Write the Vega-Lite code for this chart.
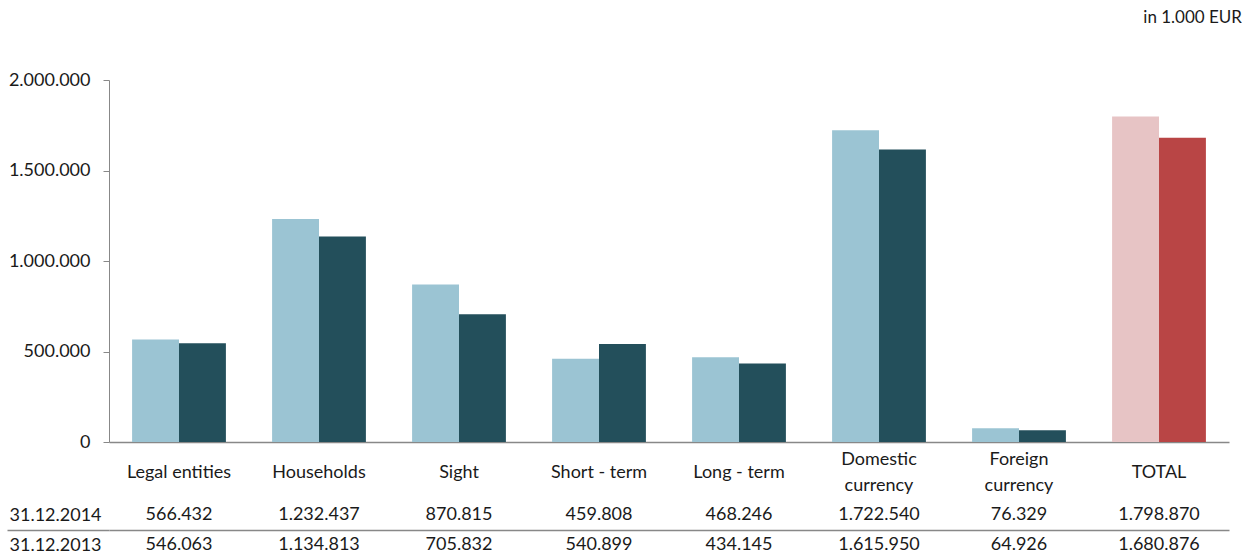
{
  "$schema": "https://vega.github.io/schema/vega-lite/v6.json",
  "padding": {"top": 9, "left": 6, "right": 0, "bottom": 0},
  "title": {"text": "in 1.000 EUR", "anchor": "end", "fontSize": 17, "fontWeight": "normal", "font": "Lato", "color": "#1a1a1a", "offset": 44, "dx": 13},
  "datasets": {
    "deposits": [
      {"category": "Legal entities", "date": "31.12.2014", "value": 566432},
      {"category": "Households", "date": "31.12.2014", "value": 1232437},
      {"category": "Sight", "date": "31.12.2014", "value": 870815},
      {"category": "Short - term", "date": "31.12.2014", "value": 459808},
      {"category": "Long - term", "date": "31.12.2014", "value": 468246},
      {"category": "Domestic currency", "date": "31.12.2014", "value": 1722540},
      {"category": "Foreign currency", "date": "31.12.2014", "value": 76329},
      {"category": "TOTAL", "date": "31.12.2014", "value": 1798870},
      {"category": "Legal entities", "date": "31.12.2013", "value": 546063},
      {"category": "Households", "date": "31.12.2013", "value": 1134813},
      {"category": "Sight", "date": "31.12.2013", "value": 705832},
      {"category": "Short - term", "date": "31.12.2013", "value": 540899},
      {"category": "Long - term", "date": "31.12.2013", "value": 434145},
      {"category": "Domestic currency", "date": "31.12.2013", "value": 1615950},
      {"category": "Foreign currency", "date": "31.12.2013", "value": 64926},
      {"category": "TOTAL", "date": "31.12.2013", "value": 1680876}
    ]
  },
  "bounds": "flush",
  "spacing": 58,
  "vconcat": [
    {
      "width": 1120,
      "height": 362,
      "data": {"name": "deposits"},
      "mark": {"type": "bar"},
      "encoding": {
        "x": {
          "field": "category", "type": "nominal",
          "sort": ["Legal entities", "Households", "Sight", "Short - term", "Long - term", "Domestic currency", "Foreign currency", "TOTAL"],
          "scale": {"type": "band", "paddingInner": 0.33, "paddingOuter": 0.165},
          "axis": {
            "title": null, "ticks": false, "tickSize": 0, "labelAngle": 0,
            "labelPadding": {"condition": {"test": "indexof(datum.value, 'currency') > 0", "value": 17}, "value": 30},
            "labelBaseline": "middle", "labelLineHeight": 26,
            "labelFontSize": 18, "labelFont": "Lato", "labelColor": "#1a1a1a",
            "domainColor": "#888888", "domainWidth": 1.5,
            "labelExpr": "indexof(datum.value, 'currency') > 0 ? split(datum.value, ' ') : datum.value"
          }
        },
        "xOffset": {"field": "date", "type": "nominal", "sort": ["31.12.2014", "31.12.2013"]},
        "y": {
          "field": "value", "type": "quantitative",
          "scale": {"domain": [0, 2000000]},
          "axis": {
            "title": null, "grid": false, "values": [0, 500000, 1000000, 1500000, 2000000],
            "format": ",d", "tickSize": 6, "labelPadding": 13,
            "labelFontSize": 18, "labelFont": "Lato", "labelColor": "#1a1a1a",
            "domainColor": "#888888", "tickColor": "#888888"
          }
        },
        "color": {
          "field": "date", "type": "nominal", "legend": null,
          "scale": {"domain": ["31.12.2014", "31.12.2013"], "range": ["#9BC4D3", "#234F5B"]},
          "condition": [
            {"test": "datum.category === 'TOTAL' && datum.date === '31.12.2014'", "value": "#E7C4C5"},
            {"test": "datum.category === 'TOTAL' && datum.date === '31.12.2013'", "value": "#B94545"}
          ]
        }
      }
    },
    {
      "width": 1120,
      "height": 60,
      "data": {"name": "deposits"},
      "mark": {"type": "text", "fontSize": 18, "font": "Lato", "color": "#1a1a1a", "baseline": "middle"},
      "encoding": {
        "x": {
          "field": "category", "type": "nominal",
          "sort": ["Legal entities", "Households", "Sight", "Short - term", "Long - term", "Domestic currency", "Foreign currency", "TOTAL"],
          "scale": {"type": "band", "paddingInner": 0.33, "paddingOuter": 0.165},
          "axis": null
        },
        "y": {
          "field": "date", "type": "nominal", "sort": ["31.12.2014", "31.12.2013"],
          "scale": {"type": "band", "paddingInner": 0, "paddingOuter": 0},
          "axis": {
            "title": null, "domain": false, "tickBand": "extent",
            "ticks": true, "tickSize": 102, "tickWidth": 1.5,
            "tickColor": {"condition": {"test": "datum.value === '31.12.2014'", "value": "#888888"}, "value": "transparent"},
            "grid": true, "gridWidth": 1.5,
            "gridColor": {"condition": {"test": "datum.value === '31.12.2014'", "value": "#888888"}, "value": "transparent"},
            "labelAlign": "left", "labelBaseline": "middle", "labelPadding": -2,
            "labelFontSize": 18, "labelFont": "Lato", "labelColor": "#1a1a1a"
          }
        },
        "text": {"field": "value", "type": "quantitative", "format": ",d"}
      }
    }
  ],
  "config": {
    "font": "Lato",
    "view": {"stroke": null},
    "locale": {"number": {"decimal": ",", "thousands": ".", "grouping": [3], "currency": ["", " €"]}}
  }
}
